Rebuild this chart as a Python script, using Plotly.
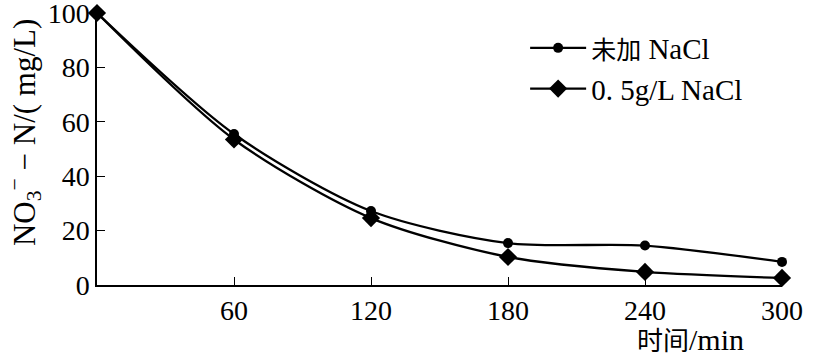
import plotly.graph_objects as go

time_min = [0, 60, 120, 180, 240, 300]
no_nacl = [100, 55.5, 27.2, 15.4, 14.5, 8.5]
nacl_05 = [100, 53.5, 24.6, 10.3, 4.8, 2.6]
x_ticks = [60, 120, 180, 240, 300]
y_ticks = [0, 20, 40, 60, 80, 100]
series_names = ["<span style='font-size:25px'>未加</span> NaCl", "0. 5g/L NaCl"]

SERIF = "Liberation Serif, Noto Sans CJK SC, serif"

fig = go.Figure()
fig.add_trace(go.Scatter(
    x=time_min, y=no_nacl, name=series_names[0], mode="lines+markers",
    line=dict(color="black", width=2.3, shape="spline", smoothing=0.8),
    marker=dict(symbol="circle", size=10, color="black"), cliponaxis=False))
fig.add_trace(go.Scatter(
    x=time_min, y=nacl_05, name=series_names[1], mode="lines+markers",
    line=dict(color="black", width=2.3, shape="spline", smoothing=0.8),
    marker=dict(symbol="diamond", size=14, color="black"), cliponaxis=False))

fig.update_layout(
    width=815, height=358,
    margin=dict(l=97, r=33, t=13, b=73, autoexpand=False),
    paper_bgcolor="white", plot_bgcolor="white",
    font=dict(family=SERIF, size=28, color="black"),
    showlegend=True,
    legend=dict(x=0.625, y=0.965, xanchor="left", yanchor="top",
                bgcolor="rgba(0,0,0,0)", font=dict(size=29, family=SERIF),
                itemwidth=56, tracegroupgap=0),
    xaxis=dict(range=[0, 300], tickvals=x_ticks, ticktext=[str(v) for v in x_ticks],
               showgrid=False, zeroline=False, showline=True, linecolor="black",
               linewidth=1.5, ticks="inside", ticklen=8, tickcolor="black",
               tickwidth=1, mirror=False, ticklabeloverflow="allow"),
    yaxis=dict(range=[0, 100], tickvals=y_ticks, ticktext=[str(v) for v in y_ticks],
               showgrid=False, zeroline=False, showline=True, linecolor="black",
               linewidth=1.5, ticks="inside", ticklen=8, tickcolor="black",
               tickwidth=1, mirror=False, ticklabeloverflow="allow"),
    annotations=[
        dict(text="NO<sub>3</sub><sup>−</sup> − N/( mg/L)", textangle=-90,
             xref="paper", yref="paper", x=-0.106, y=0.56,
             xanchor="center", yanchor="middle",
             showarrow=False, font=dict(size=31, family=SERIF)),
        dict(text="<span style='font-size:26px'>时间</span>/min", xref="paper", yref="paper",
             x=0.867, y=-0.2, xanchor="center", yanchor="middle",
             showarrow=False, font=dict(size=30, family=SERIF)),
    ],
)

fig.write_html("out.html", config={"displayModeBar": False},
               post_script="document.body.style.margin='0';document.body.style.overflow='hidden';")
